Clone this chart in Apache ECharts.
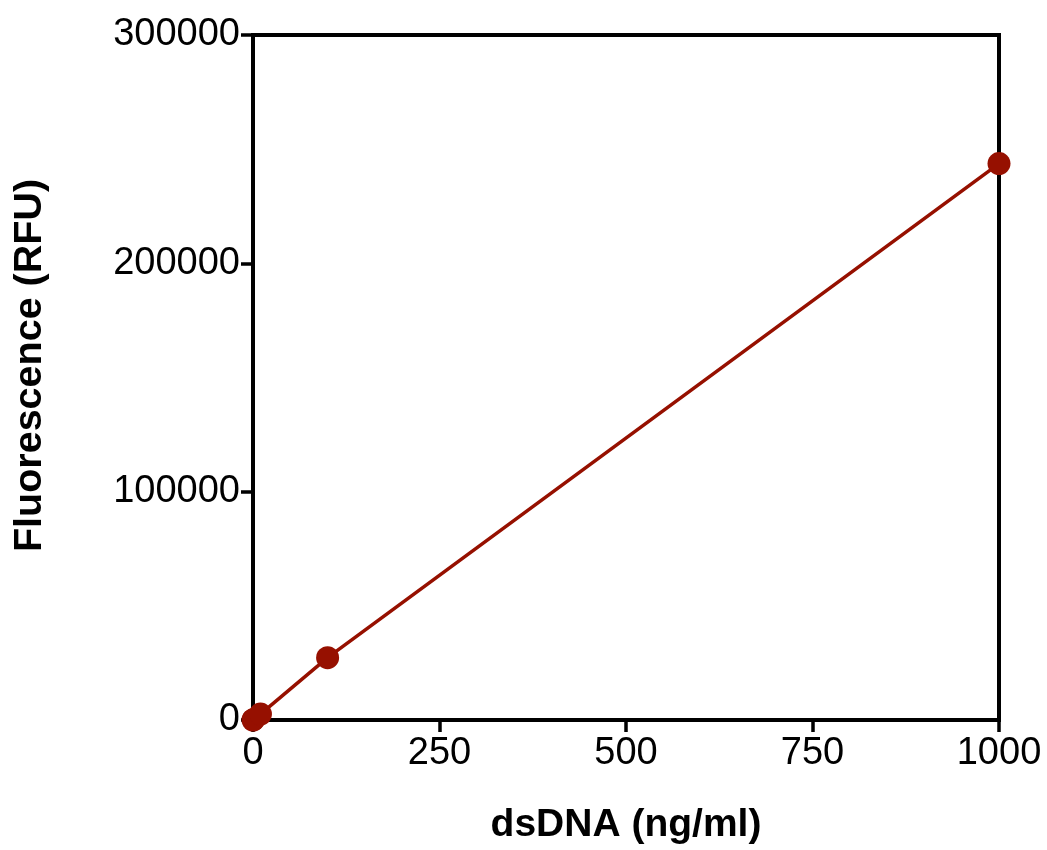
<!DOCTYPE html>
<html>
<head>
<meta charset="utf-8">
<script src="https://cdn.jsdelivr.net/npm/echarts@6/dist/echarts.min.js"></script>
<style>
html,body{margin:0;padding:0;background:#fff;}
#chart{width:1047px;height:850px;}
</style>
</head>
<body>
<div id="chart"></div>
<script>
// dsDNA standard curve: concentration vs fluorescence
const concentrations = [0, 1, 10, 100, 1000];
const fluorescence = [0, 250, 2600, 27300, 243700];
const xTicks = [0, 250, 500, 750, 1000];
const yTicks = [0, 100000, 200000, 300000];

const red = '#961000';
const font = '"Liberation Sans", Arial, sans-serif';

const chart = echarts.init(document.getElementById('chart'));
chart.setOption({
  animation: false,
  backgroundColor: '#fff',
  grid: { left: 253, right: 48, top: 35, bottom: 128, show: true, borderColor: '#000', borderWidth: 4, backgroundColor: 'transparent' },
  xAxis: {
    type: 'value', min: xTicks[0], max: xTicks[xTicks.length - 1], interval: 250,
    name: 'dsDNA (ng/ml)', nameLocation: 'middle', nameGap: 86,
    nameTextStyle: { fontFamily: font, fontWeight: 'bold', fontSize: 39, color: '#000' },
    axisLine: { show: true, onZero: false, lineStyle: { color: '#000', width: 4 } },
    axisTick: { show: true, length: 12, lineStyle: { color: '#000', width: 3.5 } },
    axisLabel: { fontFamily: font, fontSize: 38, color: '#000', margin: 15, formatter: v => String(v) },
    splitLine: { show: false }
  },
  yAxis: {
    type: 'value', min: yTicks[0], max: yTicks[yTicks.length - 1], interval: 100000,
    name: 'Fluorescence (RFU)', nameLocation: 'middle', nameGap: 203,
    nameTextStyle: { fontFamily: font, fontWeight: 'bold', fontSize: 39.5, color: '#000', padding: [0, 0, 0, 24] },
    axisLine: { show: true, onZero: false, lineStyle: { color: '#000', width: 4 } },
    axisTick: { show: true, length: 12, lineStyle: { color: '#000', width: 3.5 } },
    axisLabel: { fontFamily: font, fontSize: 38, color: '#000', margin: 13, formatter: v => String(v) },
    splitLine: { show: false }
  },
  series: [{
    type: 'line',
    data: concentrations.map((c, i) => [c, fluorescence[i]]),
    symbol: 'circle', symbolSize: 23,
    clip: false,
    lineStyle: { color: red, width: 3.5 },
    itemStyle: { color: red }
  }]
});
</script>
</body>
</html>
